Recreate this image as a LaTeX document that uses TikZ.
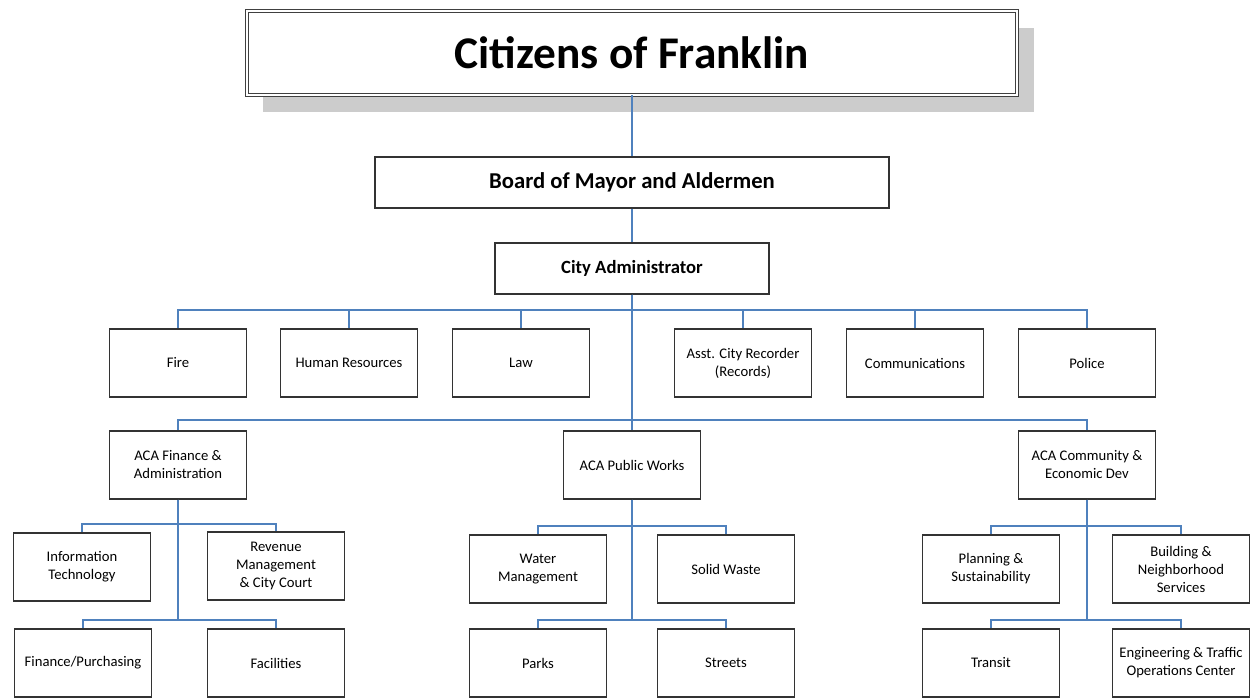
\documentclass[tikz,border=0pt]{standalone}
\usepackage{fontspec}
\setmainfont{Carlito}
\definecolor{conn}{RGB}{79,129,189}
\begin{document}
\begin{tikzpicture}[x=0.75pt,y=-0.75pt,
  box/.style={draw=black!80, line width=1pt, fill=white, align=center,
    font=\fontsize{11}{13.5}\selectfont, minimum width=102.75pt,
    minimum height=51pt, inner sep=1pt},
  link/.style={draw=conn, line width=1.1pt}]
\useasboundingbox (0,0) rectangle (1254,698);
% title shadow
\fill[black!20] (263,28) rectangle (1034,112);
\node[draw=black!75, line width=0.75pt, double=white, double distance=1.5pt,
  fill=white, minimum width=577.5pt, minimum height=63pt,
  font=\fontsize{34}{40}\selectfont\bfseries] (cit) at (632,53) {Citizens of Franklin};
\node[box, minimum width=385.5pt, minimum height=38.25pt,
  font=\fontsize{17}{20}\selectfont\bfseries] (board) at (632,182.5) {Board of Mayor and Aldermen};
\node[box, minimum width=205.5pt, minimum height=38.25pt,
  font=\fontsize{14}{17}\selectfont\bfseries] (ca) at (632,268.5) {City Administrator};
% row 1
\node[box] (fire) at (178,363) {Fire};
\node[box] (hr) at (349,363) {Human Resources};
\node[box] (law) at (521,363) {Law};
\node[box] (asst) at (743,363) {Asst. City Recorder\\(Records)};
\node[box] (comm) at (915,363) {Communications};
\node[box] (police) at (1087,363) {Police};
% row 2
\node[box] (fin) at (178,465) {ACA Finance \&\\Administration};
\node[box] (pw) at (632,465) {ACA Public Works};
\node[box] (ced) at (1087,465) {ACA Community \&\\Economic Dev};
% finance group
\node[box] (it) at (82,567) {Information\\Technology};
\node[box] (rev) at (276,566) {Revenue\\Management\\\& City Court};
\node[box] (fp) at (83,663) {Finance/Purchasing};
\node[box] (fac) at (276,663) {Facilities};
% public works group
\node[box] (wm) at (538,569) {Water\\Management};
\node[box] (sw) at (726,569) {Solid Waste};
\node[box] (parks) at (538,663) {Parks};
\node[box] (streets) at (726,663) {Streets};
% community group
\node[box] (plan) at (991,569) {Planning \&\\Sustainability};
\node[box] (bld) at (1181,569) {Building \&\\Neighborhood\\Services};
\node[box] (tr) at (991,663) {Transit};
\node[box] (eng) at (1181,663) {Engineering \& Traffic\\Operations Center};
% bus coordinates
\coordinate (b1) at (0,310);
\coordinate (b2) at (0,420);
\coordinate (bfa) at (0,524);
\coordinate (bga) at (0,526);
\coordinate (bb) at (0,620);
% connectors
\draw[link] (cit.south) -- (board.north);
\draw[link] (board.south) -- (ca.north);
\foreach \n in {fire,hr,law,asst,comm,police}
  \draw[link] (ca.south) -- (ca.south |- b1) -| (\n.north);
\foreach \n in {fin,pw,ced}
  \draw[link] (ca.south) -- (ca.south |- b2) -| (\n.north);
\foreach \n in {it,rev}
  \draw[link] (fin.south) -- (fin.south |- bfa) -| (\n.north);
\foreach \n in {fp,fac}
  \draw[link] (fin.south) -- (fin.south |- bb) -| (\n.north);
\foreach \n in {wm,sw}
  \draw[link] (pw.south) -- (pw.south |- bga) -| (\n.north);
\foreach \n in {parks,streets}
  \draw[link] (pw.south) -- (pw.south |- bb) -| (\n.north);
\foreach \n in {plan,bld}
  \draw[link] (ced.south) -- (ced.south |- bga) -| (\n.north);
\foreach \n in {tr,eng}
  \draw[link] (ced.south) -- (ced.south |- bb) -| (\n.north);
\end{tikzpicture}
\end{document}
